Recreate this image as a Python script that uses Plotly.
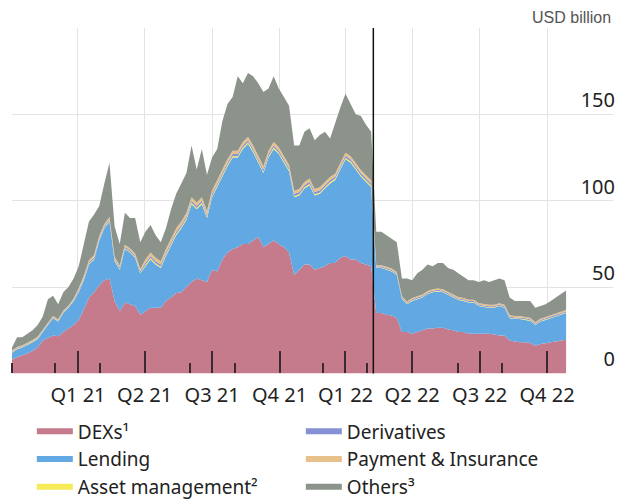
import pandas as pd
import plotly.graph_objects as go

# weekly observation dates (Fridays), Jan 2021 - Jan 2023
dates = pd.date_range("2021-01-01", periods=109, freq="7D")

dexs = [8, 9.5, 10.5, 11.5, 13, 15, 19, 20.5, 22, 21.5, 24, 26, 28,
        31, 37, 44, 47, 51, 54, 55, 42, 36, 41, 40, 39, 34,
        36, 38, 38, 38, 42, 44, 46.5, 47, 50, 53, 55, 54, 53, 60, 59, 66, 70, 72, 73, 75, 75, 77, 79, 73, 75, 77, 75,
        73, 70, 57, 60, 63, 63, 60, 61, 62, 64, 64, 67, 68, 66, 66, 64, 63, 62,
        35, 35, 34, 33.5, 32, 24, 24, 23, 24, 25, 26, 26, 26.5, 26.5, 25.5, 25, 24, 24, 23, 23,
        23, 23, 23, 22.5, 22, 22, 19, 18.5, 18, 18, 17.6, 16, 17, 17.5, 18, 18.5, 19, 19.5]

lending = [4, 4.5, 4.5, 5, 5, 5, 5, 7.5, 10, 8.5, 11, 12, 14,
           16, 17, 19, 19, 26, 30, 33, 23, 24, 31, 30, 28, 24,
           26, 28, 25, 23, 26, 30, 33.5, 37, 39, 45, 40, 44, 37, 42, 49, 48, 50, 53, 52, 55, 58, 51, 43, 43, 50, 53, 52,
           49, 47, 45, 43, 44, 46, 43, 43, 45, 46, 48, 51, 56, 56, 52, 50, 48, 46,
           26, 26, 26, 25.5, 25, 19, 16, 19, 19, 19, 20, 21, 21, 20.5, 20, 19, 18.5, 18, 18, 18,
           16, 15.5, 15, 15.5, 17, 16, 13, 13, 13.5, 13, 12.9, 12, 13, 13.5, 14, 14.5, 15, 15.5]

asset_mgmt = [0.3, 0.3, 0.3, 0.3, 0.3, 0.3, 0.3, 0.3, 0.3, 0.3, 0.3, 0.3, 0.3,
              0.5, 0.5, 0.5, 0.5, 0.5, 0.5, 0.5, 0.5, 0.5, 0.5, 0.5, 0.5, 0.5,
              0.8, 0.8, 0.8, 0.8, 0.8, 0.8, 0.8, 0.8, 0.8, 0.8, 0.8, 0.8, 0.8, 0.8, 0.8, 0.8, 0.8, 0.8, 0.8, 0.8, 0.8, 0.8, 0.8, 0.8, 0.8, 0.8, 0.8,
              0.8, 0.8, 0.8, 0.8, 0.8, 0.8, 0.8, 0.8, 0.8, 0.8, 0.8, 0.8, 0.8, 0.8, 0.8, 0.8, 0.8, 0.8,
              0.3, 0.3, 0.3, 0.3, 0.3, 0.3, 0.3, 0.3, 0.3, 0.3, 0.3, 0.3, 0.3, 0.3, 0.3, 0.3, 0.3, 0.3, 0.3, 0.3,
              0.3, 0.3, 0.3, 0.3, 0.3, 0.3, 0.3, 0.3, 0.3, 0.3, 0.3, 0.3, 0.3, 0.3, 0.3, 0.3, 0.3, 0.3]

derivatives = [0.4, 0.4, 0.4, 0.4, 0.4, 0.4, 0.4, 0.4, 0.4, 0.4, 0.4, 0.4, 0.4,
               0.8, 0.8, 0.8, 0.8, 0.8, 0.8, 0.8, 0.8, 0.8, 0.8, 0.8, 0.8, 0.8,
               1.2, 1.2, 1.2, 1.2, 1.2, 1.2, 1.2, 1.2, 1.2, 1.2, 1.2, 1.2, 1.2, 1.2, 1.2, 1.2, 1.2, 1.2, 1.2, 1.2, 1.2, 1.2, 1.2, 1.2, 1.2, 1.2, 1.2,
               1.2, 1.2, 1.2, 1.2, 1.2, 1.2, 1.2, 1.2, 1.2, 1.2, 1.2, 1.2, 1.2, 1.2, 1.2, 1.2, 1.2, 1.2,
               0.6, 0.6, 0.6, 0.6, 0.6, 0.6, 0.6, 0.6, 0.6, 0.6, 0.6, 0.6, 0.6, 0.6, 0.6, 0.6, 0.6, 0.6, 0.6, 0.6,
               0.6, 0.6, 0.6, 0.6, 0.6, 0.6, 0.6, 0.6, 0.6, 0.6, 0.6, 0.6, 0.6, 0.6, 0.6, 0.6, 0.6, 0.6]

payment_insurance = [0.6, 0.6, 0.6, 0.6, 0.6, 0.6, 0.6, 0.6, 0.6, 0.6, 0.6, 0.6, 0.6,
                     1.2, 1.2, 1.2, 1.2, 1.2, 1.2, 1.2, 1.2, 1.2, 1.2, 1.2, 1.2, 1.2,
                     2.0, 2.0, 2.0, 2.0, 2.0, 2.0, 2.0, 2.0, 2.0, 2.0, 2.0, 2.0, 2.0, 2.0, 2.0, 2.0, 2.0, 2.0, 2.0, 2.0, 2.0, 2.0, 2.0, 2.0, 2.0, 2.0, 2.0,
                     1.8, 1.8, 1.8, 1.8, 1.8, 1.8, 1.8, 1.8, 1.8, 1.8, 1.8, 1.8, 1.8, 1.8, 1.8, 1.8, 1.8, 1.8,
                     0.8, 0.8, 0.8, 0.8, 0.8, 0.8, 0.8, 0.8, 0.8, 0.8, 0.8, 0.8, 0.8, 0.8, 0.8, 0.8, 0.8, 0.8, 0.8, 0.8,
                     0.8, 0.8, 0.8, 0.8, 0.8, 0.8, 0.8, 0.8, 0.8, 0.8, 0.8, 0.8, 0.8, 0.8, 0.8, 0.8, 0.8, 0.8]

others = [1.7, 5.7, 4.7, 5.2, 5.7, 6.7, 7.7, 13.7, 11.7, 8.7, 10.7, 10.7, 11.7,
          12.5, 18.5, 22.5, 23.5, 17.5, 23.5, 31.5, 17.5, 12.5, 18.5, 17.5, 20.5, 15.5,
          16, 16, 13, 11, 12, 17, 20, 22, 23, 30, 19, 28, 21, 19, 18, 28, 32, 31, 43, 34, 37, 40, 42, 43, 36, 38, 34,
          34.2, 34.2, 26.2, 25.2, 29.2, 29.2, 28.2, 30.2, 29.2, 22.2, 29.2, 32.2, 34.2, 30.2, 28.2, 31.2, 29.2, 28.2,
          19.3, 19.3, 18.3, 17.3, 17.3, 10.3, 13.3, 10.3, 13.3, 14.3, 15.3, 13.3, 14.8, 15.3, 13.8, 14.3, 13.8, 12.3, 11.3, 11.3,
          12.3, 13.8, 13.3, 14.3, 14.3, 14.3, 10.3, 8.8, 8.8, 9.3, 9.8, 8.3, 7.3, 7.3, 8.3, 9.3, 10.3, 11.3]

series = [
    ("DEXs¹", dexs, "#c67b8d", 1),
    ("Lending", lending, "#62a9e3", 3),
    ("Asset management²", asset_mgmt, "#f6ea58", 5),
    ("Derivatives", derivatives, "#8690d4", 2),
    ("Payment & Insurance", payment_insurance, "#e8c08a", 4),
    ("Others³", others, "#8c938b", 6),
]

# quarter boundaries; in "period" mode each tick labels the quarter that ends there
quarter_starts = pd.date_range("2021-01-01", "2023-04-01", freq="QS")
quarter_labels = ["", "Q1 21", "Q2 21", "Q3 21", "Q4 21", "Q1 22", "Q2 22",
                  "Q3 22", "Q4 22", "Q1 23"]
x_range = ["2021-01-01", "2023-04-01"]

y_ticks = [0, 50, 100, 150, 200]
y_labels = ["0", "50", "100", "150", ""]
event_date = "2022-05-09"

fig = go.Figure()
for name, vals, col, rank in series:
    fig.add_trace(go.Scatter(
        x=dates, y=vals, name=name, mode="none", stackgroup="one",
        fillcolor=col, legendrank=rank, hoverinfo="skip"))

fig.add_shape(type="line", x0=event_date, x1=event_date, y0=0, y1=1,
              xref="x", yref="paper", line=dict(color="#111", width=1.5),
              layer="above")

fig.add_annotation(text="USD billion", xref="paper", yref="paper",
                   x=1.0, y=1.0, xanchor="right", yanchor="bottom", yshift=0,
                   showarrow=False,
                   font=dict(family="Liberation Sans, Arial, sans-serif", size=16, color="#555"))

font_family = "Noto Sans, Open Sans, sans-serif"
tick_col = "#3b2a33"
fig.update_layout(
    width=616, height=492,
    margin=dict(l=4, r=11, t=20, b=121),
    paper_bgcolor="white", plot_bgcolor="white",
    font=dict(family=font_family, size=20, color="#222"),
    showlegend=True,
    legend=dict(orientation="h", traceorder="normal",
                xref="paper", yref="container",
                x=0.033, xanchor="left", y=0.178, yanchor="top",
                entrywidth=218, entrywidthmode="pixels",
                font=dict(size=19, color="#222"), itemwidth=36,
                tracegroupgap=0, bgcolor="rgba(0,0,0,0)"),
    xaxis=dict(type="date", range=x_range,
               tickmode="array", tickvals=quarter_starts, ticktext=quarter_labels,
               ticklabelmode="period", ticklabelstandoff=8,
               ticks="inside", ticklen=22, tickwidth=2, tickcolor=tick_col,
               showgrid=True, gridcolor="#e3e3e3", gridwidth=1,
               showline=False, zeroline=False,
               minor=dict(tickmode="auto", tick0="2021-01-01", dtick="M1",
                          ticks="inside", ticklen=10,
                          tickwidth=2, tickcolor=tick_col, showgrid=False),
               tickfont=dict(size=20, color="#222")),
    yaxis=dict(range=[0, 200], side="right", tickmode="array",
               tickvals=y_ticks, ticktext=y_labels,
               ticklabelposition="inside top", ticks="",
               ticklabelstandoff=-5,
               showgrid=True, gridcolor="#e3e3e3", gridwidth=1,
               zeroline=False, showline=False,
               tickfont=dict(size=20, color="#222")),
)

fig.write_html("out.html")
